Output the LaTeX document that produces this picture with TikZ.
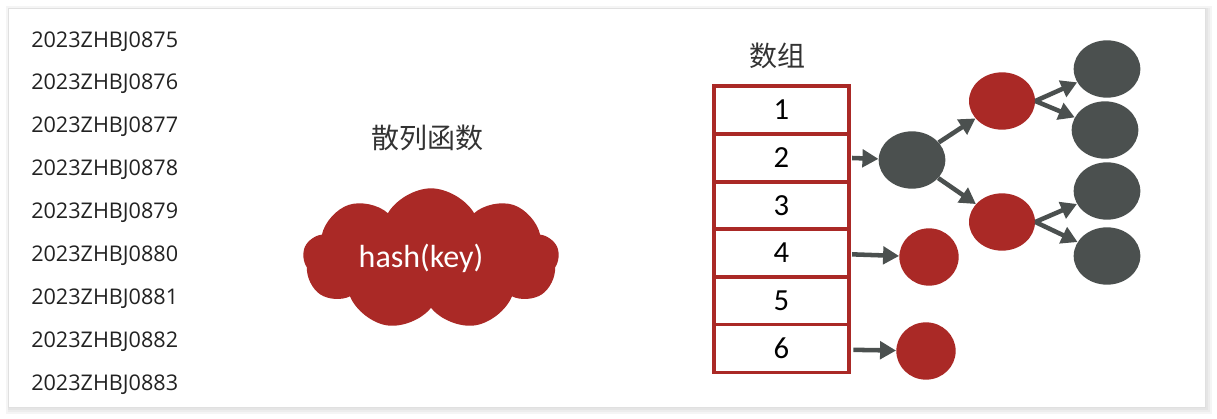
\documentclass[tikz,border=0pt]{standalone}
\usepackage{fontspec}
\setmainfont{Open Sans}
\newfontfamily\cjk{Noto Sans CJK SC}
\newfontfamily\calfont{Carlito}
\usetikzlibrary{shapes.geometric,shapes.symbols,arrows.meta}
\definecolor{hred}{RGB}{170,41,38}
\definecolor{hgray}{RGB}{75,80,79}
\definecolor{txt}{RGB}{34,34,34}
\tikzset{
  idtext/.style={anchor=west,font=\fontsize{16.2}{18}\selectfont,text=txt,inner sep=0pt},
  title/.style={font=\cjk\fontsize{21}{24}\selectfont,text={rgb,255:red,51;green,51;blue,51},inner sep=0pt},
  cell/.style={draw=hred,line width=2.6pt,fill=white,minimum width=101.25pt,minimum height=35.75pt,inner sep=0pt,font=\calfont\fontsize{23}{24}\selectfont},
  rnode/.style={ellipse,fill=hred,minimum width=49.5pt,minimum height=43pt,inner sep=0pt},
  gnode/.style={ellipse,fill=hgray,minimum width=50pt,minimum height=43pt,inner sep=0pt},
  smallred/.style={ellipse,fill=hred,minimum width=44.5pt,minimum height=43pt,inner sep=0pt},
  link/.style={draw=hgray,line width=3.4pt,-{Triangle[length=12pt,width=13pt]},shorten >=0pt}
}
\begin{document}
\begin{tikzpicture}[x=0.75pt,y=-0.75pt]
\useasboundingbox (0,0) rectangle (1217,418);
\fill[white] (0,0) rectangle (1217,418);
% shadow
\fill[black!4] (6,6) rectangle (1212,414);
\fill[black!7] (8,8) rectangle (1210,412);
\fill[black!10] (8,8) rectangle (1208,410);
\fill[white] (8,8) rectangle (1205,407);
\draw[black!12,line width=0.5pt] (8,8) rectangle (1205,407);
% ids
\node[idtext] (t1) at (31,41.5) {2023ZHBJ0875};
\node[idtext] (t2) at (31,83.5) {2023ZHBJ0876};
\node[idtext] (t3) at (31,126.5) {2023ZHBJ0877};
\node[idtext] (t4) at (31,169.5) {2023ZHBJ0878};
\node[idtext] (t5) at (31,212.5) {2023ZHBJ0879};
\node[idtext] (t6) at (31,255.5) {2023ZHBJ0880};
\node[idtext] (t7) at (31,298.5) {2023ZHBJ0881};
\node[idtext] (t8) at (31,341.5) {2023ZHBJ0882};
\node[idtext] (t9) at (31,384.5) {2023ZHBJ0883};
% hash function
\node[title] (ht) at (427,138) {散列函数};
\node[cloud,cloud puffs=9,cloud puff arc=120,aspect=1.85,fill=hred,minimum width=192pt,minimum height=106pt,inner sep=0pt] (cloud) at (431,259) {};
\node[font=\calfont\fontsize{24}{26}\selectfont,text=white,inner sep=0pt] (hk) at (421,258) {hash(key)};
% array
\node[title] (at) at (777,56) {数组};
\node[cell] (c1) at (781.5,110) {1};
\node[cell] (c2) at (781.5,158) {2};
\node[cell] (c3) at (781.5,206) {3};
\node[cell] (c4) at (781.5,253) {4};
\node[cell] (c5) at (781.5,301) {5};
\node[cell] (c6) at (781.5,348.5) {6};
% nodes
\node[gnode] (A) at (912,160) {};
\node[rnode] (B) at (1002,101) {};
\node[rnode] (C) at (1002,222) {};
\node[gnode] (D1) at (1107,69) {};
\node[gnode] (D2) at (1105,130) {};
\node[gnode] (D3) at (1107,191) {};
\node[gnode] (D4) at (1107,256) {};
\node[smallred] (E) at (929,257) {};
\node[smallred] (F) at (926,351) {};
% links
\draw[link] ([xshift=1pt]c2.east) -- (A);
\draw[link] ([xshift=1pt,yshift=-1pt]c4.east) -- (E);
\draw[link] ([xshift=2pt,yshift=-1pt]c6.east) -- (F);
\draw[link] (A) -- (B);
\draw[link] (A) -- (C);
\draw[link] (B.east) -- (D1);
\draw[link] (B.east) -- (D2);
\draw[link] (C.east) -- (D3);
\draw[link] (C.east) -- (D4);
\end{tikzpicture}
\end{document}
